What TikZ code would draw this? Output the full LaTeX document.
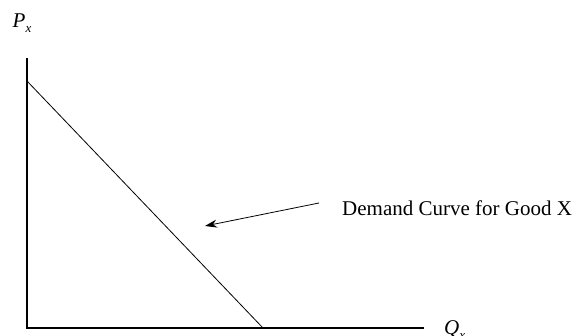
\documentclass[tikz,border=0pt]{standalone}
\usepackage{fontspec}
\setmainfont{Liberation Serif}
\usetikzlibrary{arrows.meta,positioning,calc}
\tikzset{
  axisline/.style={black,line width=1.3pt},
  demandline/.style={black,line width=0.8pt},
  labeltext/.style={inner sep=0pt,font=\fontsize{21}{21}\selectfont},
}
\newcommand{\axislabel}[2]{\textit{#1}\raisebox{-5pt}{\fontsize{13}{13}\selectfont\textit{#2}}}
\begin{document}
\begin{tikzpicture}[x=1pt,y=1pt]
% ==========================================
\useasboundingbox (0,0) rectangle (575,335);
\coordinate (origin) at (27,7);
\coordinate (ytop) at (27,277);
\coordinate (xend) at (423.5,7);
\coordinate (dtop) at (27,254);
\coordinate (dbot) at (263,7);
\coordinate (tail) at (319,132);
\coordinate (head) at (205,109);
%
\draw [axisline] (ytop) -- (origin) -- (xend);%Axes.
\draw [demandline] (dtop) -- (dbot);%Demand.
\draw [black,line width=0.8pt,-{Stealth[length=12pt,width=8pt]}] (tail) -- (head);%Arrow.
%
\node [labeltext,anchor=west] (demandlabel) at (342,127) {Demand Curve for Good X};
\node [labeltext,anchor=base west] (plabel) at (12.5,307) {\axislabel{P}{x}};
\node [labeltext,anchor=base west] (qlabel) at (444,1) {\axislabel{Q}{x}};
% =============================================
\end{tikzpicture}
\end{document}
